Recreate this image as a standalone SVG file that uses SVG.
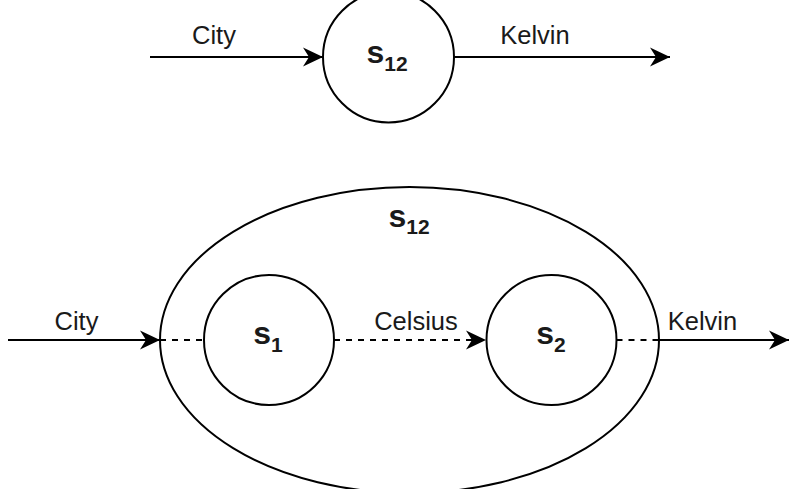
<svg xmlns="http://www.w3.org/2000/svg" width="794" height="489" viewBox="0 0 794 489">
<defs>
<marker id="arr" markerUnits="userSpaceOnUse" markerWidth="22" markerHeight="22" refX="20" refY="11" orient="auto">
<path d="M20,11 L0,1.5 L6,11 L0,20.5 Z" fill="#000"/>
</marker>
<style>
.ln{stroke:#000;stroke-width:2;fill:none}
.ds{stroke:#000;stroke-width:2;fill:none;stroke-dasharray:6 6}
.sh{stroke:#000;stroke-width:2;fill:#fff}
.lb{font-family:"Liberation Sans",Arial,sans-serif;font-size:25.5px;fill:#1a1a1a;text-anchor:middle}
.nm{font-family:"Liberation Sans",Arial,sans-serif;font-size:32px;font-weight:bold;fill:#1a1a1a;text-anchor:middle}
.sb{font-size:21px}
</style>
</defs>
<g id="outer-s12">
<ellipse class="sh" cx="409.5" cy="340" rx="249.5" ry="153"/>
<text class="nm" x="409" y="227">s<tspan class="sb" dy="7">12</tspan></text>
</g>
<g id="top-s12">
<circle class="sh" cx="388.5" cy="57" r="65.5"/>
<text class="nm" x="387" y="63">s<tspan class="sb" dy="8">12</tspan></text>
</g>
<g id="s1">
<circle class="sh" cx="269" cy="340" r="65"/>
<text class="nm" x="268" y="344">s<tspan class="sb" dy="8">1</tspan></text>
</g>
<g id="s2">
<circle class="sh" cx="551.5" cy="340" r="65"/>
<text class="nm" x="551" y="344">s<tspan class="sb" dy="8">2</tspan></text>
</g>
<g id="connectors">
<line class="ln" x1="150" y1="57" x2="323" y2="57" marker-end="url(#arr)"/>
<line class="ln" x1="454" y1="57" x2="670" y2="57" marker-end="url(#arr)"/>
<line class="ln" x1="8" y1="340" x2="160" y2="340" marker-end="url(#arr)"/>
<line class="ds" x1="160" y1="340" x2="204" y2="340"/>
<line class="ds" x1="334" y1="340" x2="486" y2="340" marker-end="url(#arr)"/>
<line class="ds" x1="616.5" y1="340" x2="659" y2="340"/>
<line class="ln" x1="659" y1="340" x2="789" y2="340" marker-end="url(#arr)"/>
<text class="lb" x="214" y="44">City</text>
<text class="lb" x="535" y="44">Kelvin</text>
<text class="lb" x="76.5" y="330">City</text>
<text class="lb" x="416" y="330">Celsius</text>
<text class="lb" x="702.5" y="330">Kelvin</text>
</g>
</svg>
